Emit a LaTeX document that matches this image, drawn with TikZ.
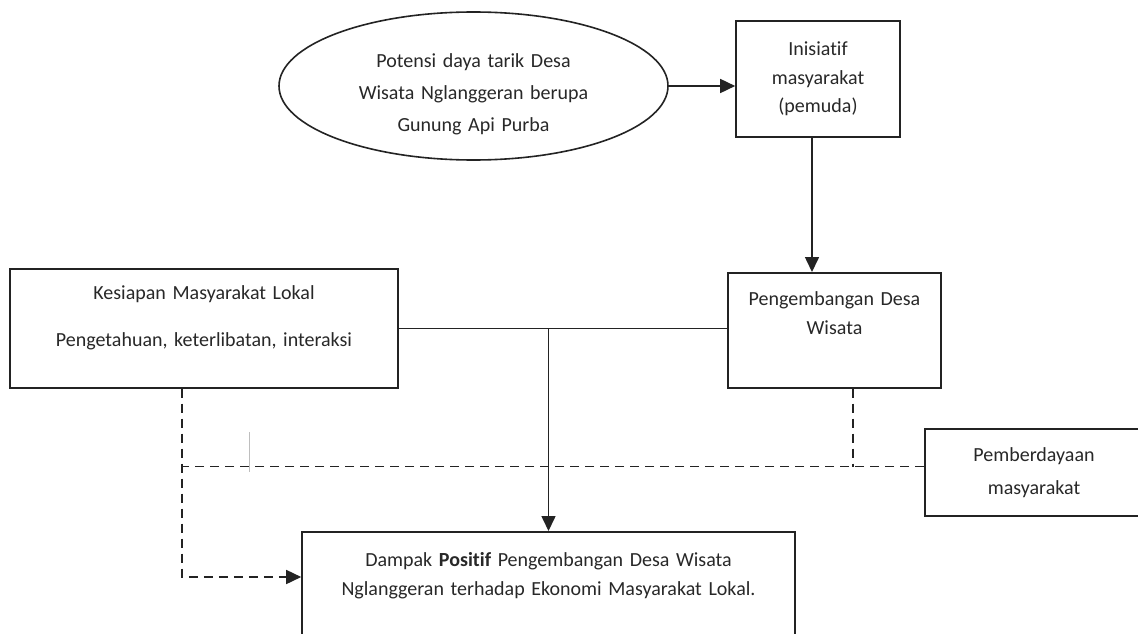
\documentclass[tikz,border=0pt]{standalone}
\usepackage{fontspec}
\setmainfont{Carlito}[Ligatures=NoCommon]
\usetikzlibrary{arrows.meta,positioning,shapes.geometric}
\definecolor{frameink}{RGB}{35,35,35}
\definecolor{wordink}{RGB}{40,40,40}
\definecolor{strayline}{RGB}{190,190,190}
\tikzset{
  box/.style={draw=frameink, line width=1.6pt, align=center, inner sep=0pt,
    text=wordink, font=\fontsize{20}{28.5}\selectfont},
  oval/.style={ellipse, draw=frameink, line width=1.6pt, align=center, inner sep=0pt,
    text=wordink, font=\fontsize{20}{31.5}\selectfont},
  flow/.style={-{Triangle[length=15pt,width=14pt]}, line width=1.6pt, draw=frameink},
  link/.style={line width=1.6pt, draw=frameink},
  dashlink/.style={line width=1.6pt, draw=frameink, dash pattern=on 9pt off 6pt}
}
\begin{document}
\begin{tikzpicture}[x=1pt, y=-1pt]
  \useasboundingbox[fill=white] (0,0) rectangle (1138,634);

  \node[oval, minimum width=389pt, minimum height=148pt, text width=260pt,
    text height=32pt, text depth=68pt] (potensi) at (473.5,86)
    {Potensi daya tarik Desa\\Wisata Nglanggeran berupa\\Gunung Api Purba};
  \node[box, minimum width=164pt, minimum height=116pt, text width=150pt]
    (inisiatif) at (818,79) {Inisiatif\\masyarakat\\(pemuda)};
  \node[box, anchor=north, minimum width=213pt, text width=200pt,
    text height=33pt, text depth=82pt] (pengembangan) at (834.5,272)
    {Pengembangan Desa\\Wisata};
  \node[box, anchor=north, minimum width=388pt, text width=370pt,
    text height=31pt, text depth=88pt] (kesiapan) at (204,268)
    {Kesiapan Masyarakat Lokal\\[18.5pt]Pengetahuan, keterlibatan, interaksi};
  \node[box, minimum width=218pt, minimum height=87pt, text width=200pt,
    font=\fontsize{20}{33}\selectfont] (pemberdayaan) at (1034,472.5)
    {Pemberdayaan\\masyarakat};
  \node[box, anchor=north, minimum width=493pt, text width=480pt,
    text height=35pt, text depth=95pt] (dampak) at (548.5,531)
    {Dampak \textbf{Positif} Pengembangan Desa Wisata\\Nglanggeran terhadap Ekonomi Masyarakat Lokal.};

  % solid links
  \coordinate (drop) at ([xshift=-6pt]inisiatif.south);
  \draw[flow] (potensi.east) -- (potensi.east -| inisiatif.west);
  \draw[flow] (drop) -- (drop |- pengembangan.north);
  \draw[link] (kesiapan.east) -- (kesiapan.east -| pengembangan.west);
  \draw[flow] (kesiapan.east -| dampak.north) -- (dampak.north);

  % dashed links
  \coordinate (readyfoot) at ([xshift=173pt]kesiapan.south west);
  \coordinate (devfoot) at ([xshift=126pt]pengembangan.south west);
  \coordinate (empowerjoin) at ([yshift=6pt]pemberdayaan.west);
  \draw[dashlink, -{Triangle[length=15pt,width=14pt]}] (readyfoot)
    |- ([yshift=-46pt]dampak.north west);
  \draw[dashlink] (empowerjoin) -- (empowerjoin -| readyfoot);
  \draw[dashlink] (devfoot) -- (devfoot |- empowerjoin);

  \draw[strayline, line width=0.8pt] (249,432) -- (249,472);
\end{tikzpicture}
\end{document}
